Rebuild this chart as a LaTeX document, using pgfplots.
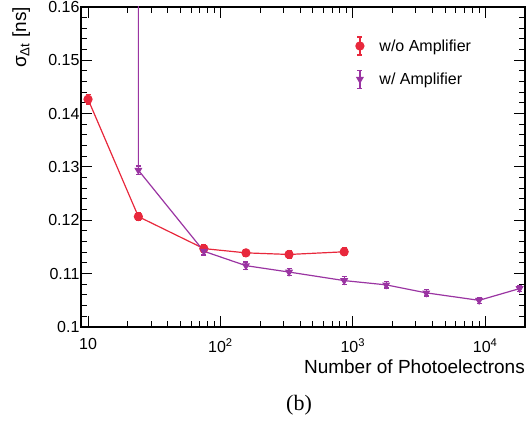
\documentclass[border=0pt]{standalone}
\usepackage{fontspec}
\setmainfont{Liberation Sans}
\newfontfamily\serifff{Liberation Serif}
\usepackage{pgfplots}
\pgfplotsset{compat=1.18}
\definecolor{myred}{HTML}{E8283C}
\definecolor{mypurple}{HTML}{9A34A2}
\newcommand{\tickfont}{\fontsize{16}{19}\selectfont}
\newcommand{\labfont}{\fontsize{19}{23}\selectfont}
\begin{document}
\begin{tikzpicture}[x=1pt,y=1pt]
\path[use as bounding box] (0,0) rectangle (527,430);
\begin{axis}[
  at={(81pt,103pt)}, anchor=south west,
  scale only axis, width=444pt, height=320pt,
  xmode=log, xmin=8.85, xmax=20000,
  ymin=0.1, ymax=0.16,
  xtick={10,100,1000,10000},
  xticklabels={10, 10\textsuperscript{2}, 10\textsuperscript{3}, 10\textsuperscript{4}},
  ytick={0.1,0.11,0.12,0.13,0.14,0.15,0.16},
  minor y tick num=4,
  tick label style={font=\tickfont},
  yticklabel style={/pgf/number format/fixed, /pgf/number format/precision=2, xshift=2pt},
  xticklabel style={yshift=-8pt},
  /pgf/number format/assume math mode=true,
  major tick length=11pt, minor tick length=6pt,
  every tick/.style={black, line width=1pt},
  axis line style={line width=1.2pt},
  every axis x label/.style={at={(axis description cs:1,0)}, anchor=north east, inner sep=0pt, yshift=-33pt, font=\labfont},
  every axis y label/.style={at={(axis description cs:-0.155,1)}, rotate=90, anchor=north east, inner sep=0pt, font=\labfont},
  xlabel={Number of Photoelectrons},
  ylabel={σ\textsubscript{Δt} [ns]},
  legend style={at={(axis description cs:0.604,0.915)}, anchor=north west, draw=none, fill=none,
    row sep=14pt, font=\tickfont, inner sep=2pt},
  legend cell align=left,
  clip=true,
]
\addplot[myred, line width=1.2pt, mark=*, mark size=4pt,
  error bars/y dir=both, error bars/y explicit, error bars/error bar style={line width=1.2pt},
  error bars/error mark options={rotate=90, mark size=2.5pt, line width=1.2pt},
  legend image code/.code={
    \draw[myred, line width=1.2pt] (0.3cm,-9pt) -- (0.3cm,9pt);
    \draw[myred, line width=1.2pt] (0.3cm-2.5pt,-9pt) -- (0.3cm+2.5pt,-9pt);
    \draw[myred, line width=1.2pt] (0.3cm-2.5pt,9pt) -- (0.3cm+2.5pt,9pt);
    \fill[myred] (0.3cm,0pt) circle (4pt);
    \path[draw=none, fill=none] (0pt,0pt) rectangle (0.6cm+9pt,0.1pt);
  }]
  coordinates {
  (10,0.1427) +- (0,0.0009)
  (24,0.1207) +- (0,0.0007)
  (75,0.1147) +- (0,0.0007)
  (156,0.1139) +- (0,0.0007)
  (330,0.1136) +- (0,0.0007)
  (861,0.1141) +- (0,0.0007)
  };
\addlegendentry{w/o Amplifier}
\addplot[mypurple, line width=1.2pt, mark=triangle*, mark options={rotate=180}, mark size=3.5pt,
  error bars/y dir=both, error bars/y explicit, error bars/error bar style={line width=1.2pt},
  error bars/error mark options={rotate=90, mark size=2.5pt, line width=1.2pt},
  legend image code/.code={
    \draw[mypurple, line width=1.2pt] (0.3cm,-9pt) -- (0.3cm,9pt);
    \draw[mypurple, line width=1.2pt] (0.3cm-2.5pt,-9pt) -- (0.3cm+2.5pt,-9pt);
    \draw[mypurple, line width=1.2pt] (0.3cm-2.5pt,9pt) -- (0.3cm+2.5pt,9pt);
    \path[mypurple] plot[mark=triangle*, mark size=3.5pt, mark options={rotate=180, fill=mypurple, draw=mypurple}] coordinates {(0.3cm,0pt)};
    \path[draw=none, fill=none] (0pt,0pt) rectangle (0.6cm+9pt,0.1pt);
  }]
  coordinates {
  (24,0.30) +- (0,0.0008)
  (24,0.1294) +- (0,0.0008)
  (75,0.1142) +- (0,0.0007)
  (156,0.1115) +- (0,0.0007)
  (330,0.1103) +- (0,0.0007)
  (861,0.1087) +- (0,0.0007)
  (1787,0.1079) +- (0,0.0006)
  (3590,0.1064) +- (0,0.0006)
  (9000,0.1050) +- (0,0.0006)
  (18200,0.1072) +- (0,0.0006)
  };
\addlegendentry{w/ Amplifier}
\end{axis}
\node[font=\serifff\fontsize{22}{26}\selectfont, anchor=center] at (299,25) {(b)};
\end{tikzpicture}
\end{document}
